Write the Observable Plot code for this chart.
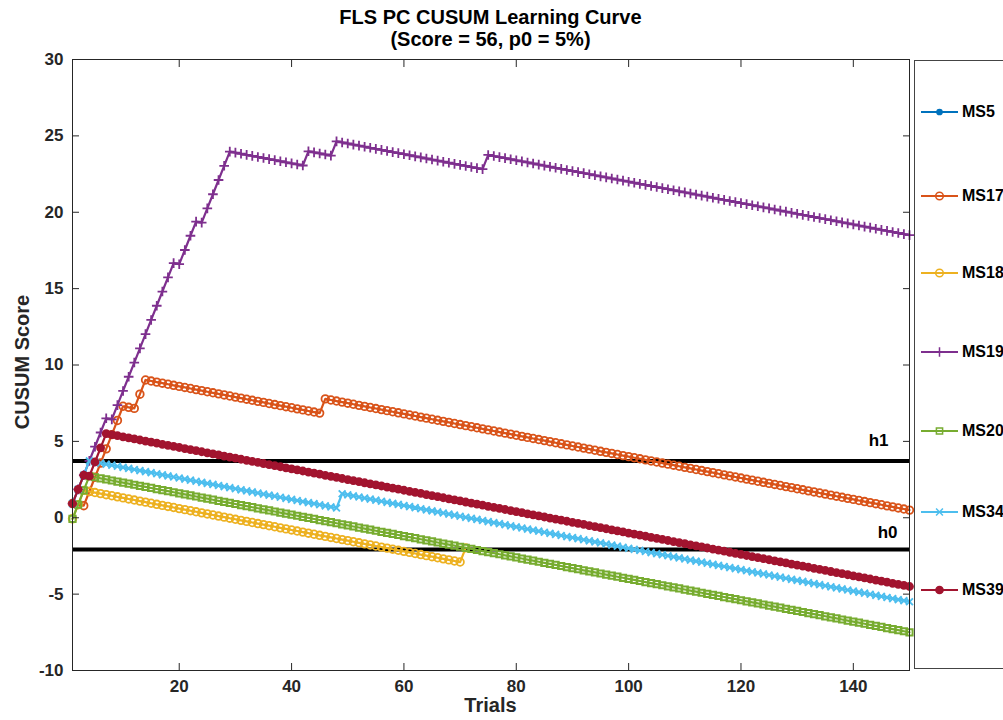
<!DOCTYPE html>
<html>
<head>
<meta charset="utf-8">
<script src="https://cdn.jsdelivr.net/npm/d3@7"></script>
<script src="https://cdn.jsdelivr.net/npm/@observablehq/plot@0.6"></script>
<style>
  body { margin: 0; background: #fff; font-family: "Liberation Sans", Arial, Helvetica, sans-serif; }
  #wrap { position: relative; width: 1003px; height: 720px; overflow: hidden; background: #fff; }
  #title { position: absolute; left: 72px; width: 837px; top: 6px; text-align: center; font-weight: bold; font-size: 20px; line-height: 22px; color: #000; }
  #chart { position: absolute; left: 0; top: 50px; }
  #xlabel { position: absolute; left: 72px; width: 837px; top: 694px; text-align: center; font-weight: bold; font-size: 20px; color: #262626; }
  #ylabel { position: absolute; left: 22px; top: 362px; transform: translate(-50%, -50%) rotate(-90deg); font-weight: bold; font-size: 20px; color: #262626; white-space: nowrap; }
  #legend { position: absolute; left: 914px; top: 60px; width: 140px; height: 607px; border: 1px solid #444; background: #fff; }
  .item { position: absolute; left: 6px; height: 20px; display: flex; align-items: center; }
  .item span { font-weight: bold; font-size: 16px; color: #000; margin-left: 3px; }
</style>
</head>
<body>
<div id="wrap">
  <div id="title">FLS PC CUSUM Learning Curve<br>(Score = 56, p0 = 5%)</div>
  <div id="chart"></div>
  <div id="xlabel">Trials</div>
  <div id="ylabel">CUSUM Score</div>
  <div id="legend"></div>
</div>
<script>
// ---- data (CUSUM score per trial) ----
const legendNames = ["MS5", "MS17", "MS18", "MS19", "MS20", "MS34", "MS39"];
const H1 = 3.71;
const H0 = -2.08;
const xTicks = [20, 40, 60, 80, 100, 120, 140];
const yTicks = [-10, -5, 0, 5, 10, 15, 20, 25, 30];

const ms17 = [0.93,0.86,0.79,1.72,2.65,3.58,4.51,5.44,6.37,7.30,7.23,7.16,8.09,9.02,
8.95,8.88,8.81,8.74,8.67,8.60,8.53,8.46,8.39,8.32,8.25,8.18,8.11,8.04,7.97,7.90,7.83,7.76,7.69,7.62,7.55,7.48,7.41,7.34,7.27,7.20,7.13,7.06,6.99,6.92,6.85,
7.78,
7.71,7.64,7.57,7.50,7.43,7.36,7.29,7.22,7.15,7.08,7.01,6.94,6.87,6.80,6.73,6.66,6.59,6.52,6.45,6.38,6.31,6.24,6.17,6.10,6.03,5.96,5.89,5.82,5.75,5.68,5.61,5.54,5.47,5.40,5.33,5.26,5.19,5.12,5.05,4.98,4.91,4.84,4.77,4.70,4.63,4.56,4.49,4.42,4.35,4.28,4.21,4.14,4.07,4.00,3.93,3.86,3.79,3.72,3.65,3.58,3.51,3.44,3.37,3.30,3.23,3.16,3.09,3.02,2.95,2.88,2.81,2.74,2.67,2.60,2.53,2.46,2.39,2.32,2.25,2.18,2.11,2.04,1.97,1.90,1.83,1.76,1.69,1.62,1.55,1.48,1.41,1.34,1.27,1.20,1.13,1.06,0.99,0.92,0.85,0.78,0.71,0.64,0.57,0.50];

const ms18 = [-0.07,0.86,1.79,1.72,1.65,1.58,1.51,1.44,1.37,1.30,1.23,1.16,1.09,1.02,0.95,0.88,0.81,0.74,0.67,0.60,0.53,0.46,0.39,0.32,0.25,0.18,0.11,0.04,-0.03,-0.10,-0.17,-0.24,-0.31,-0.38,-0.45,-0.52,-0.59,-0.66,-0.73,-0.80,-0.87,-0.94,-1.01,-1.08,-1.15,-1.22,-1.29,-1.36,-1.43,-1.50,-1.57,-1.64,-1.71,-1.78,-1.85,-1.92,-1.99,-2.06,-2.13,-2.20,-2.27,-2.34,-2.41,-2.48,-2.55,-2.62,-2.69,-2.76,-2.83,-2.90,-1.97];

const ms19 = [0.93,1.86,2.79,3.72,4.65,5.58,6.51,6.44,7.37,8.30,9.23,10.16,11.09,12.02,12.95,13.88,14.81,15.74,16.67,16.60,17.53,18.46,19.39,19.32,20.25,21.18,22.11,23.04,23.97,
23.90,23.83,23.76,23.69,23.62,23.55,23.48,23.41,23.34,23.27,23.20,23.13,23.06,
23.99,23.92,23.85,23.78,23.71,
24.64,
24.57,24.50,24.43,24.36,24.29,24.22,24.15,24.08,24.01,23.94,23.87,23.80,23.73,23.66,23.59,23.52,23.45,23.38,23.31,23.24,23.17,23.10,23.03,22.96,22.89,22.82,
23.75,
23.68,23.61,23.54,23.47,23.40,23.33,23.26,23.19,23.12,23.05,22.98,22.91,22.84,22.77,22.70,22.63,22.56,22.49,22.42,22.35,22.28,22.21,22.14,22.07,22.00,21.93,21.86,21.79,21.72,21.65,21.58,21.51,21.44,21.37,21.30,21.23,21.16,21.09,21.02,20.95,20.88,20.81,20.74,20.67,20.60,20.53,20.46,20.39,20.32,20.25,20.18,20.11,20.04,19.97,19.90,19.83,19.76,19.69,19.62,19.55,19.48,19.41,19.34,19.27,19.20,19.13,19.06,18.99,18.92,18.85,18.78,18.71,18.64,18.57,18.50];

const ms20 = [-0.07,0.86,1.79,2.72,
2.65,2.58,2.51,2.44,2.37,2.30,2.23,2.16,2.09,2.02,1.95,1.88,1.81,1.74,1.67,1.60,1.53,1.46,1.39,1.32,1.25,1.18,1.11,1.04,0.97,0.90,0.83,0.76,0.69,0.62,0.55,0.48,0.41,0.34,0.27,0.20,0.13,0.06,-0.01,-0.08,-0.15,-0.22,-0.29,-0.36,-0.43,-0.50,-0.57,-0.64,-0.71,-0.78,-0.85,-0.92,-0.99,-1.06,-1.13,-1.20,-1.27,-1.34,-1.41,-1.48,-1.55,-1.62,-1.69,-1.76,-1.83,-1.90,-1.97,-2.04,-2.11,-2.18,-2.25,-2.32,-2.39,-2.46,-2.53,-2.60,-2.67,-2.74,-2.81,-2.88,-2.95,-3.02,-3.09,-3.16,-3.23,-3.30,-3.37,-3.44,-3.51,-3.58,-3.65,-3.72,-3.79,-3.86,-3.93,-4.00,-4.07,-4.14,-4.21,-4.28,-4.35,-4.42,-4.49,-4.56,-4.63,-4.70,-4.77,-4.84,-4.91,-4.98,-5.05,-5.12,-5.19,-5.26,-5.33,-5.40,-5.47,-5.54,-5.61,-5.68,-5.75,-5.82,-5.89,-5.96,-6.03,-6.10,-6.17,-6.24,-6.31,-6.38,-6.45,-6.52,-6.59,-6.66,-6.73,-6.80,-6.87,-6.94,-7.01,-7.08,-7.15,-7.22,-7.29,-7.36,-7.43,-7.50];

const ms34 = [0.93,1.86,2.79,3.72,
3.65,3.58,3.51,3.44,3.37,3.30,3.23,3.16,3.09,3.02,2.95,2.88,2.81,2.74,2.67,2.60,2.53,2.46,2.39,2.32,2.25,2.18,2.11,2.04,1.97,1.90,1.83,1.76,1.69,1.62,1.55,1.48,1.41,1.34,1.27,1.20,1.13,1.06,0.99,0.92,0.85,0.78,0.71,0.64,
1.57,
1.50,1.43,1.36,1.29,1.22,1.15,1.08,1.01,0.94,0.87,0.80,0.73,0.66,0.59,0.52,0.45,0.38,0.31,0.24,0.17,0.10,0.03,-0.04,-0.11,-0.18,-0.25,-0.32,-0.39,-0.46,-0.53,-0.60,-0.67,-0.74,-0.81,-0.88,-0.95,-1.02,-1.09,-1.16,-1.23,-1.30,-1.37,-1.44,-1.51,-1.58,-1.65,-1.72,-1.79,-1.86,-1.93,-2.00,-2.07,-2.14,-2.21,-2.28,-2.35,-2.42,-2.49,-2.56,-2.63,-2.70,-2.77,-2.84,-2.91,-2.98,-3.05,-3.12,-3.19,-3.26,-3.33,-3.40,-3.47,-3.54,-3.61,-3.68,-3.75,-3.82,-3.89,-3.96,-4.03,-4.10,-4.17,-4.24,-4.31,-4.38,-4.45,-4.52,-4.59,-4.66,-4.73,-4.80,-4.87,-4.94,-5.01,-5.08,-5.15,-5.22,-5.29,-5.36,-5.43,-5.50];

const ms39 = [0.93,1.86,2.79,2.72,3.65,4.58,5.51,
5.44,5.37,5.30,5.23,5.16,5.09,5.02,4.95,4.88,4.81,4.74,4.67,4.60,4.53,4.46,4.39,4.32,4.25,4.18,4.11,4.04,3.97,3.90,3.83,3.76,3.69,3.62,3.55,3.48,3.41,3.34,3.27,3.20,3.13,3.06,2.99,2.92,2.85,2.78,2.71,2.64,2.57,2.50,2.43,2.36,2.29,2.22,2.15,2.08,2.01,1.94,1.87,1.80,1.73,1.66,1.59,1.52,1.45,1.38,1.31,1.24,1.17,1.10,1.03,0.96,0.89,0.82,0.75,0.68,0.61,0.54,0.47,0.40,0.33,0.26,0.19,0.12,0.05,-0.02,-0.09,-0.16,-0.23,-0.30,-0.37,-0.44,-0.51,-0.58,-0.65,-0.72,-0.79,-0.86,-0.93,-1.00,-1.07,-1.14,-1.21,-1.28,-1.35,-1.42,-1.49,-1.56,-1.63,-1.70,-1.77,-1.84,-1.91,-1.98,-2.05,-2.12,-2.19,-2.26,-2.33,-2.40,-2.47,-2.54,-2.61,-2.68,-2.75,-2.82,-2.89,-2.96,-3.03,-3.10,-3.17,-3.24,-3.31,-3.38,-3.45,-3.52,-3.59,-3.66,-3.73,-3.80,-3.87,-3.94,-4.01,-4.08,-4.15,-4.22,-4.29,-4.36,-4.43,-4.50];

// ---- styles ----
const styles = {
  MS5:  {color: "#0072BD", symbol: "circle", r: 2.6, filled: true,  sw: 1.6},
  MS17: {color: "#D95319", symbol: "circle", r: 3.8, filled: false, sw: 1.8},
  MS18: {color: "#EDB120", symbol: "circle", r: 3.8, filled: false, sw: 1.8},
  MS19: {color: "#7E2F8E", symbol: "plus",   r: 3.2, filled: false, sw: 1.8},
  MS20: {color: "#77AC30", symbol: "square", r: 3.5, filled: false, sw: 2.0},
  MS34: {color: "#4DBEEE", symbol: "times",  r: 3.2, filled: false, sw: 1.9},
  MS39: {color: "#A2142F", symbol: "circle", r: 3.6, filled: true,  sw: 1.6}
};

const seriesData = {MS17: ms17, MS18: ms18, MS19: ms19, MS20: ms20, MS34: ms34, MS39: ms39};
const rowsOf = (name) => seriesData[name].map((v, i) => ({name, trial: i + 1, cusum: v}));

const seriesMarks = Object.keys(seriesData).flatMap(name => {
  const st = styles[name];
  const rows = rowsOf(name);
  return [
    Plot.line(rows, {x: "trial", y: "cusum", stroke: st.color, strokeWidth: 2.2}),
    Plot.dot(rows, {x: "trial", y: "cusum", symbol: st.symbol, r: st.r,
      stroke: st.color, fill: st.filled ? st.color : "none", strokeWidth: st.sw})
  ];
});

const fmt = d => String(d);
const none = () => "";
const TICK = 7;

const chart = Plot.plot({
  width: 1003,
  height: 670,
  marginLeft: 72,
  marginRight: 94,
  marginTop: 9,
  marginBottom: 50,
  x: {domain: [1, 150]},
  y: {domain: [-10, 30]},
  style: {fontFamily: "'Liberation Sans', Arial, sans-serif", fontSize: "17px", fontWeight: "bold", color: "#262626", background: "transparent"},
  marks: [
    Plot.ruleY([H1, H0], {stroke: "#000", strokeWidth: 4}),
    ...seriesMarks,
    Plot.frame({stroke: "#262626", strokeWidth: 1}),
    // inward tick marks on all four sides
    Plot.axisX({anchor: "bottom", ticks: xTicks, tickSize: TICK, dy: -TICK, tickFormat: none, label: null, stroke: "#262626"}),
    Plot.axisX({anchor: "top", ticks: xTicks, tickSize: TICK, dy: TICK, tickFormat: none, label: null, stroke: "#262626"}),
    Plot.axisY({anchor: "left", ticks: yTicks, tickSize: TICK, dx: TICK, tickFormat: none, label: null, stroke: "#262626"}),
    Plot.axisY({anchor: "right", ticks: yTicks, tickSize: TICK, dx: -TICK, tickFormat: none, label: null, stroke: "#262626"}),
    // tick labels
    Plot.axisX({anchor: "bottom", ticks: xTicks, tickSize: 0, tickPadding: 9, tickFormat: fmt, label: null, fill: "#262626"}),
    Plot.axisY({anchor: "left", ticks: yTicks, tickSize: 0, tickPadding: 9, tickFormat: fmt, label: null, fill: "#262626"}),
    Plot.text([H1], {y: d => d, frameAnchor: "right", text: () => "h1", textAnchor: "end", dx: -21, dy: -21, fontSize: 17, fontWeight: "bold", fill: "#000"}),
    Plot.text([H0], {y: d => d, frameAnchor: "right", text: () => "h0", textAnchor: "end", dx: -12, dy: -17, fontSize: 17, fontWeight: "bold", fill: "#000"})
  ]
});
document.getElementById("chart").appendChild(chart);

// ---- legend ----
const legendY = [111, 195, 272, 351, 430, 511, 589];
const legend = document.getElementById("legend");
legendNames.forEach((name, i) => {
  const st = styles[name];
  const item = document.createElement("div");
  item.className = "item";
  item.style.top = (legendY[i] - 60 - 10) + "px";
  const svg = d3.create("svg").attr("width", 38).attr("height", 20);
  svg.append("line").attr("x1", 0).attr("x2", 37).attr("y1", 10).attr("y2", 10)
    .attr("stroke", st.color).attr("stroke-width", 2);
  const symType = {circle: d3.symbolCircle, plus: d3.symbolPlus, square: d3.symbolSquare, times: d3.symbolTimes}[st.symbol];
  svg.append("path").attr("transform", "translate(18.5,10)")
    .attr("d", d3.symbol(symType, st.r * st.r * Math.PI)())
    .attr("stroke", st.color).attr("stroke-width", 1.5)
    .attr("fill", st.filled ? st.color : "none");
  item.appendChild(svg.node());
  const label = document.createElement("span");
  label.textContent = name;
  item.appendChild(label);
  legend.appendChild(item);
});
</script>
</body>
</html>
